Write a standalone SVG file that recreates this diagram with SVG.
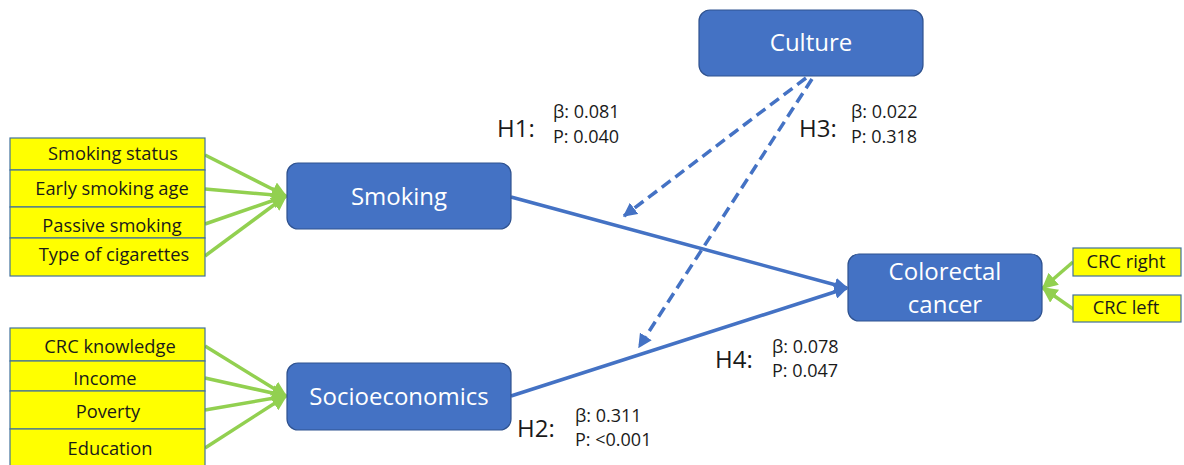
<svg xmlns="http://www.w3.org/2000/svg" width="1184" height="465" viewBox="0 0 1184 465">
<defs>
<style>
.node{fill:#4472C4;stroke:#2F528F;stroke-width:1.2}
.nt{font-family:"Open Sans","Liberation Sans",Arial,sans-serif;font-size:24px;fill:#ffffff;text-anchor:middle}
.ind{fill:#FFFF00;stroke:#41719C;stroke-width:1.2}
.it{font-family:"Open Sans","Liberation Sans",Arial,sans-serif;font-size:18.3px;fill:#1a1a1a;text-anchor:middle}
.h{font-family:"Open Sans","Liberation Sans",Arial,sans-serif;font-size:24px;fill:#1a1a1a}
.s{font-family:"Open Sans","Liberation Sans",Arial,sans-serif;font-size:18px;fill:#1a1a1a}
.g{stroke:#92D050;stroke-width:3.5;fill:none}
.b{stroke:#4472C4;stroke-width:3.5;fill:none}
.d{stroke:#4472C4;stroke-width:3.5;fill:none;stroke-dasharray:11,6}
</style>
<marker id="ga" viewBox="0 0 10 10" refX="9" refY="5" markerWidth="4.5" markerHeight="4.5" orient="auto" markerUnits="strokeWidth"><path d="M0,0 L10,5 L0,10 z" fill="#92D050"/></marker>
<marker id="ba" viewBox="0 0 10 10" refX="9" refY="5" markerWidth="4" markerHeight="4" orient="auto" markerUnits="strokeWidth"><path d="M0,0 L10,5 L0,10 z" fill="#4472C4"/></marker>
</defs>
<g id="connectors">
<line class="g" x1="205" y1="155" x2="286" y2="196" marker-end="url(#ga)"/>
<line class="g" x1="205" y1="189" x2="286" y2="196" marker-end="url(#ga)"/>
<line class="g" x1="205" y1="224" x2="286" y2="196" marker-end="url(#ga)"/>
<line class="g" x1="205" y1="256" x2="286" y2="196" marker-end="url(#ga)"/>
<line class="g" x1="205" y1="346" x2="286" y2="396" marker-end="url(#ga)"/>
<line class="g" x1="205" y1="378" x2="286" y2="396" marker-end="url(#ga)"/>
<line class="g" x1="205" y1="410" x2="286" y2="396" marker-end="url(#ga)"/>
<line class="g" x1="205" y1="448" x2="286" y2="396" marker-end="url(#ga)"/>
<line class="g" x1="1073" y1="262" x2="1043" y2="288" marker-end="url(#ga)"/>
<line class="g" x1="1073" y1="309" x2="1043" y2="288" marker-end="url(#ga)"/>
<line class="b" x1="511" y1="197" x2="847" y2="288" marker-end="url(#ba)"/>
<line class="b" x1="511" y1="396" x2="847" y2="288" marker-end="url(#ba)"/>
<line class="d" x1="806" y1="78" x2="624" y2="216" marker-end="url(#ba)"/>
<line class="d" x1="812" y1="79" x2="639" y2="347" marker-end="url(#ba)"/>
</g>
<g id="culture"><rect class="node" x="699" y="10" width="224" height="66" rx="11"/><text class="nt" x="811" y="51">Culture</text></g>
<g id="smoking"><rect class="node" x="287" y="163" width="224" height="66" rx="11"/><text class="nt" x="399" y="205">Smoking</text></g>
<g id="socioeconomics"><rect class="node" x="287" y="363" width="224" height="67" rx="11"/><text class="nt" x="399" y="405">Socioeconomics</text></g>
<g id="colorectal"><rect class="node" x="848" y="254" width="194" height="67" rx="11"/><text class="nt" x="945" y="280">Colorectal</text><text class="nt" x="945" y="313">cancer</text></g>
<g id="smoking-indicators">
<rect class="ind" x="10" y="138" width="195" height="32"/><text class="it" x="113" y="160">Smoking status</text>
<rect class="ind" x="10" y="170" width="195" height="37"/><text class="it" x="112" y="195">Early smoking age</text>
<rect class="ind" x="10" y="207" width="195" height="31"/><text class="it" x="112" y="232">Passive smoking</text>
<rect class="ind" x="10" y="238" width="195" height="38"/><text class="it" x="114" y="261">Type of cigarettes</text>
</g>
<g id="socio-indicators">
<rect class="ind" x="10" y="328" width="195" height="33"/><text class="it" x="110" y="353">CRC knowledge</text>
<rect class="ind" x="10" y="361" width="195" height="30"/><text class="it" x="105" y="385">Income</text>
<rect class="ind" x="10" y="391" width="195" height="38"/><text class="it" x="108" y="418">Poverty</text>
<rect class="ind" x="10" y="429" width="195" height="40"/><text class="it" x="110" y="455">Education</text>
</g>
<g id="crc-indicators">
<rect class="ind" x="1073" y="248" width="108" height="28"/><text class="it" x="1126" y="268">CRC right</text>
<rect class="ind" x="1073" y="295" width="108" height="27"/><text class="it" x="1126" y="314">CRC left</text>
</g>
<g id="labels">
<text class="h" x="497" y="137">H1:</text><text class="s" x="553" y="118">β: 0.081</text><text class="s" x="553" y="143">P: 0.040</text>
<text class="h" x="799" y="137">H3:</text><text class="s" x="851" y="118">β: 0.022</text><text class="s" x="851" y="143">P: 0.318</text>
<text class="h" x="715" y="368">H4:</text><text class="s" x="772" y="353">β: 0.078</text><text class="s" x="772" y="377">P: 0.047</text>
<text class="h" x="517" y="437">H2:</text><text class="s" x="575" y="422">β: 0.311</text><text class="s" x="575" y="446">P: &lt;0.001</text>
</g>
</svg>
